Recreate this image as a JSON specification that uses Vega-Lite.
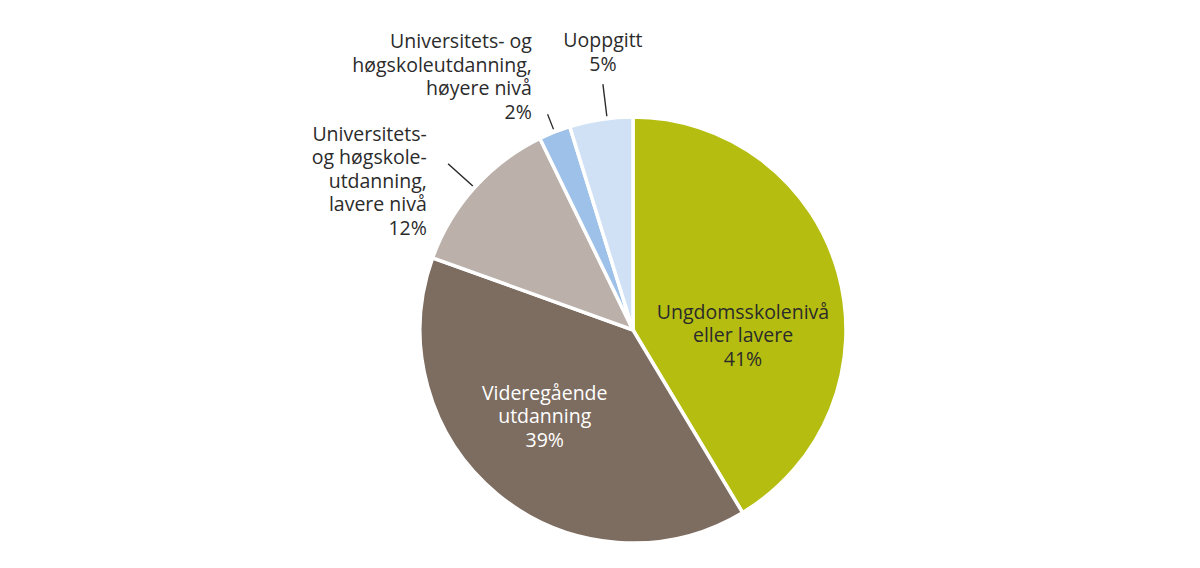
{
  "$schema": "https://vega.github.io/schema/vega-lite/v6.json",
  "width": 1134,
  "height": 476,
  "autosize": "none",
  "padding": {"left": 66, "top": 92, "right": 0, "bottom": 0},
  "background": "white",
  "config": {
    "view": {"stroke": null},
    "text": {"font": "Open Sans", "fontSize": 19.5, "lineHeight": 23.5, "lineBreak": "\n", "color": "#2b2b2b"}
  },
  "data": {
    "values": [
      {"kategori": "Ungdomsskolenivå eller lavere", "andel": 41.4, "rekkefolge": 1, "etikett": "Ungdomsskolenivå\neller lavere\n41%"},
      {"kategori": "Videregående utdanning", "andel": 39.1, "rekkefolge": 2, "etikett": "Videregående\nutdanning\n39%"},
      {"kategori": "Universitets- og høgskoleutdanning, lavere nivå", "andel": 12.3, "rekkefolge": 3, "etikett": "Universitets-\nog høgskole-\nutdanning,\nlavere nivå\n12%"},
      {"kategori": "Universitets- og høgskoleutdanning, høyere nivå", "andel": 2.4, "rekkefolge": 4, "etikett": "Universitets- og\nhøgskoleutdanning,\nhøyere nivå\n2%"},
      {"kategori": "Uoppgitt", "andel": 4.8, "rekkefolge": 5, "etikett": "Uoppgitt\n5%"}
    ]
  },
  "transform": [
    {"stack": "andel", "groupby": [], "sort": [{"field": "rekkefolge", "order": "ascending"}], "as": ["v0", "v1"]}
  ],
  "layer": [
    {
      "mark": {"type": "arc", "outerRadius": 213, "stroke": "white", "strokeWidth": 3.5},
      "encoding": {
        "theta": {"field": "v0", "type": "quantitative", "scale": {"domain": [0, 100]}},
        "theta2": {"field": "v1"},
        "color": {
          "field": "kategori", "type": "nominal", "legend": null,
          "scale": {
            "domain": ["Ungdomsskolenivå eller lavere", "Videregående utdanning", "Universitets- og høgskoleutdanning, lavere nivå", "Universitets- og høgskoleutdanning, høyere nivå", "Uoppgitt"],
            "range": ["#b5be10", "#7d6c60", "#bbb1aa", "#9dc1e8", "#d0e1f6"]
          }
        }
      }
    },
    {
      "transform": [{"filter": "datum.rekkefolge == 3"}],
      "mark": {"type": "arc", "innerRadius": 216, "outerRadius": 248, "thetaOffset": 0.386, "theta2Offset": -0.386, "stroke": "#2b2b2b", "strokeWidth": 1.3, "fill": null},
      "encoding": {"theta": {"field": "v0", "type": "quantitative"}, "theta2": {"field": "v1"}}
    },
    {
      "transform": [{"filter": "datum.rekkefolge == 4"}],
      "mark": {"type": "arc", "innerRadius": 216, "outerRadius": 232, "thetaOffset": 0.0754, "theta2Offset": -0.0754, "stroke": "#2b2b2b", "strokeWidth": 1.3, "fill": null},
      "encoding": {"theta": {"field": "v0", "type": "quantitative"}, "theta2": {"field": "v1"}}
    },
    {
      "transform": [{"filter": "datum.rekkefolge == 5"}],
      "mark": {"type": "arc", "innerRadius": 216, "outerRadius": 247, "thetaOffset": 0.180, "theta2Offset": -0.122, "stroke": "#2b2b2b", "strokeWidth": 1.3, "fill": null},
      "encoding": {"theta": {"field": "v0", "type": "quantitative"}, "theta2": {"field": "v1"}}
    },
    {
      "mark": {
        "type": "text",
        "baseline": "middle",
        "radius": {"expr": "[0,110,128,253,272,280][datum.rekkefolge]"},
        "dx": {"expr": "[0,4,-7,-18,-1,12][datum.rekkefolge]"},
        "dy": {"expr": "[0,12,-35,-26,-35,-12][datum.rekkefolge]"},
        "align": {"expr": "datum.rekkefolge == 3 || datum.rekkefolge == 4 ? 'right' : 'center'"},
        "fill": {"expr": "datum.rekkefolge == 2 ? '#ffffff' : '#2b2b2b'"}
      },
      "encoding": {
        "theta": {"field": "andel", "type": "quantitative", "stack": "zero"},
        "order": {"field": "rekkefolge", "type": "quantitative", "sort": "ascending"},
        "text": {"field": "etikett"}
      }
    }
  ]
}
